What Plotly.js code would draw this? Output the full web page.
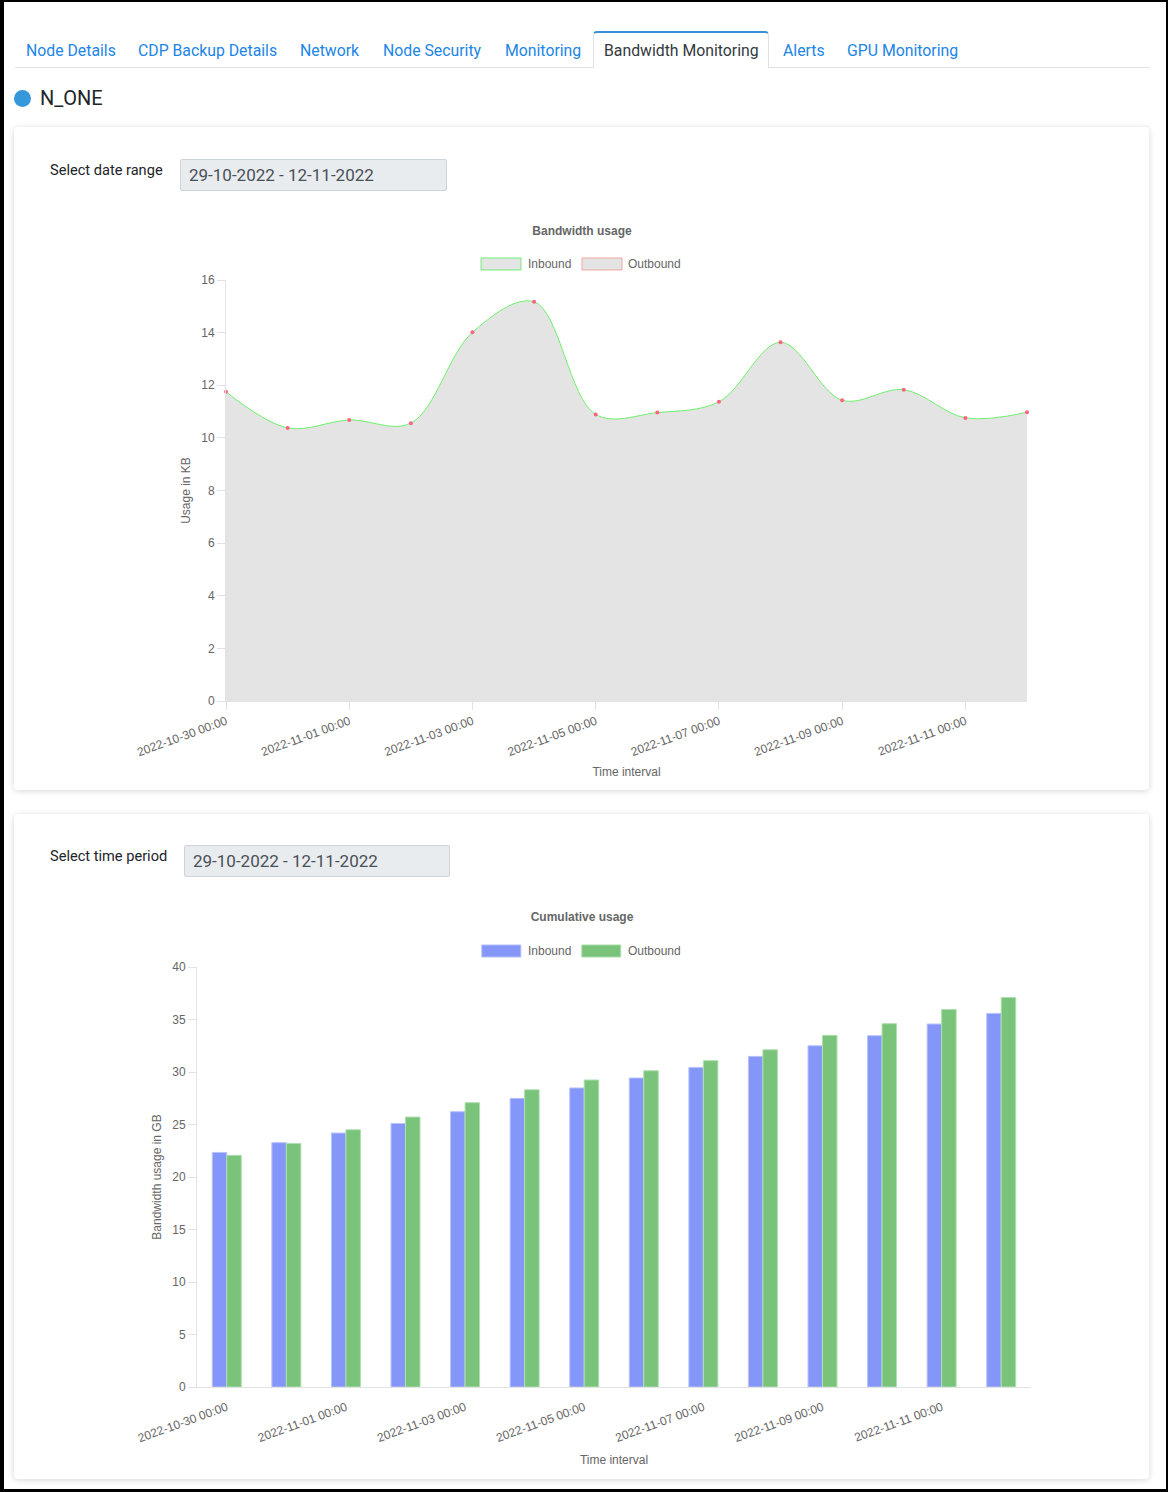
<!DOCTYPE html>
<html>
<head>
<meta charset="utf-8">
<script src="https://cdn.plot.ly/plotly-3.0.1.min.js"></script>
<style>
  html, body { margin: 0; padding: 0; background: #fff; }
  body { position: relative; width: 1168px; height: 1492px; overflow: hidden; font-family: Roboto, "Noto Sans", sans-serif; }
  #frame { position: absolute; left: 0; top: 0; width: 1168px; height: 1492px; box-sizing: border-box;
           border-style: solid; border-color: #000; border-width: 2px 2px 3px 4px; z-index: 50; pointer-events: none; }
  .tab { position: absolute; top: 41px; font-size: 15.8px; line-height: 20px; color: #2185e6; white-space: nowrap; }
  .tab.active { color: #343a40; }
  #navline { position: absolute; left: 15px; top: 67px; width: 1135px; height: 1px; background: #dee2e6; }
  #activeTab { position: absolute; left: 593px; top: 31px; width: 174px; height: 35px; background: #fff;
               border: 1px solid #dee2e6; border-top: 2px solid #3a8fd9; border-bottom: none; border-radius: 4px 4px 0 0; }
  #dot { position: absolute; left: 14px; top: 90px; width: 17px; height: 17px; border-radius: 50%; background: #3498db; }
  #nodeName { position: absolute; left: 40px; top: 86px; font-size: 20px; line-height: 24px; color: #212529; }
  .card { position: absolute; left: 14px; width: 1135px; background: #fff; border-radius: 4px;
          box-shadow: 0 1px 6px rgba(0,0,0,0.16); }
  .lbl { position: absolute; font-size: 14.6px; line-height: 18px; color: #212529; white-space: nowrap; }
  .inp { position: absolute; height: 30px; background: #e9ecef; border: 1px solid #ced4da; border-radius: 2px;
         font-size: 17px; line-height: 31px; color: #495057; padding-left: 8px; box-sizing: content-box; white-space: nowrap; }
  .chart { position: absolute; left: 50px; width: 1064px; }
</style>
</head>
<body>
<div id="frame"></div>

<div id="navline"></div>
<div id="activeTab"></div>
<div class="tab" style="left:26px">Node Details</div>
<div class="tab" style="left:138px">CDP Backup Details</div>
<div class="tab" style="left:300px">Network</div>
<div class="tab" style="left:383px">Node Security</div>
<div class="tab" style="left:505px">Monitoring</div>
<div class="tab active" style="left:604px">Bandwidth Monitoring</div>
<div class="tab" style="left:783px">Alerts</div>
<div class="tab" style="left:847px">GPU Monitoring</div>

<div id="dot"></div>
<div id="nodeName">N_ONE</div>

<div class="card" style="top:127px;height:663px"></div>
<div class="card" style="top:814px;height:665px"></div>

<div class="lbl" style="left:50px;top:161px">Select date range</div>
<div class="inp" style="left:180px;top:159px;width:257px">29-10-2022 - 12-11-2022</div>

<div class="lbl" style="left:50px;top:847px">Select time period</div>
<div class="inp" style="left:184px;top:845px;width:256px">29-10-2022 - 12-11-2022</div>

<div id="chart1" class="chart" style="top:210px;height:575px"></div>
<div id="chart2" class="chart" style="top:895px;height:580px"></div>

<script>
// ---------------- data ----------------
const dates = ['2022-10-30','2022-10-31','2022-11-01','2022-11-02','2022-11-03','2022-11-04','2022-11-05',
               '2022-11-06','2022-11-07','2022-11-08','2022-11-09','2022-11-10','2022-11-11','2022-11-12'];
const bandwidthInbound  = [11.75, 10.38, 10.68, 10.56, 14.01, 15.17, 10.89, 10.96, 11.37, 13.63, 11.43, 11.83, 10.76, 10.97];
const bandwidthOutbound = [0, 0, 0, 0, 0, 0, 0, 0, 0, 0, 0, 0, 0, 0];
const cumulativeInbound  = [22.34, 23.27, 24.19, 25.10, 26.22, 27.49, 28.48, 29.43, 30.44, 31.49, 32.50, 33.46, 34.57, 35.58];
const cumulativeOutbound = [22.06, 23.20, 24.50, 25.71, 27.08, 28.31, 29.24, 30.12, 31.08, 32.12, 33.49, 34.60, 35.96, 37.10];
const seriesNames = ['Inbound', 'Outbound'];
const labelDates = dates.filter((d, i) => i % 2 === 0);
const labelTexts = labelDates.map(d => d + ' 00:00');
const markDates  = dates.filter((d, i) => i % 2 === 1);

// ---------------- styles ----------------
const FONT = '"Liberation Sans", Arial, Helvetica, sans-serif';
const GREY = '#666666';
const AXIS = '#e3e3e3';
const DAY = 86400000;

function legendParts(items, y0, y1, ty) {
  const shapes = [], annotations = [];
  items.forEach(it => {
    shapes.push({type: 'rect', xref: 'paper', yref: 'paper', x0: it.x0, x1: it.x1, y0: y0, y1: y1,
                 fillcolor: it.fill, line: {color: it.border, width: 1}});
    annotations.push({xref: 'paper', yref: 'paper', x: it.tx, y: ty, xanchor: 'left', yanchor: 'middle',
                      text: it.name, showarrow: false, font: {family: FONT, size: 12, color: GREY}});
  });
  return {shapes, annotations};
}

// ---------------- chart 1 ----------------
const lg1 = legendParts([
  {name: seriesNames[0], x0: 0.3184, x1: 0.3683, tx: 0.3750, fill: '#e4e4e4', border: '#72ef72'},
  {name: seriesNames[1], x0: 0.4444, x1: 0.4944, tx: 0.4999, fill: '#e4e4e4', border: '#f2a5a5'}
], 1.0238, 1.0523, 1.0390);

const c1traces = [
  {x: dates, y: bandwidthOutbound, name: seriesNames[1], type: 'scatter', mode: 'lines+markers', yaxis: 'y',
   line: {color: '#f4a3a3', width: 1}, marker: {color: '#5db4ee', size: 4}, cliponaxis: true, hoverinfo: 'x+y'},
  {x: dates, y: bandwidthInbound, name: seriesNames[0], type: 'scatter', mode: 'lines+markers', yaxis: 'y2',
   line: {color: '#6cf26c', width: 1, shape: 'spline', smoothing: 1}, fill: 'tozeroy', fillcolor: '#e4e4e4',
   marker: {color: '#ff6384', size: 4}, cliponaxis: false, hoverinfo: 'x+y'}
];

const c1layout = {
  width: 1064, height: 575,
  margin: {l: 176, r: 87, t: 70, b: 84},
  paper_bgcolor: 'rgba(0,0,0,0)', plot_bgcolor: 'rgba(0,0,0,0)',
  font: {family: FONT, size: 12, color: GREY},
  showlegend: false,
  title: {text: '<b>Bandwidth usage</b>', x: 0.5, xref: 'container', xanchor: 'center',
          y: 1 - 21 / 575, yref: 'container', yanchor: 'middle', font: {family: FONT, size: 12, color: GREY}},
  xaxis: {type: 'date', range: [dates[0], dates[dates.length - 1]], tick0: dates[0], dtick: 2 * DAY,
          tickformat: '%Y-%m-%d %H:%M', tickangle: -20, ticks: 'outside', ticklen: 8, tickcolor: AXIS,
          showline: true, linecolor: AXIS, linewidth: 1, showgrid: false, zeroline: false,
          tickfont: {family: FONT, size: 12, color: GREY},
          title: {text: 'Time interval', standoff: 9, font: {family: FONT, size: 12, color: GREY}}},
  yaxis: {range: [0, 16], dtick: 2, ticks: 'outside', ticklen: 8, tickcolor: AXIS,
          showline: true, linecolor: AXIS, linewidth: 1, showgrid: false, zeroline: false,
          tickfont: {family: FONT, size: 12, color: GREY},
          title: {text: 'Usage in KB', standoff: 8, font: {family: FONT, size: 12, color: GREY}}},
  yaxis2: {range: [0, 16], overlaying: 'y', visible: false, showgrid: false, zeroline: false},
  shapes: lg1.shapes, annotations: lg1.annotations
};

Plotly.newPlot('chart1', c1traces, c1layout, {displayModeBar: false, responsive: false});

// ---------------- chart 2 ----------------
const lg2 = legendParts([
  {name: seriesNames[0], x0: 0.3415, x1: 0.3883, tx: 0.3946, fill: '#8497f8', border: '#b3bffb'},
  {name: seriesNames[1], x0: 0.4614, x1: 0.5081, tx: 0.5145, fill: '#79c37a', border: '#aadcab'}
], 1.0238, 1.0524, 1.0381);

const c2traces = [
  {x: dates, y: cumulativeInbound, name: seriesNames[0], type: 'bar',
   marker: {color: '#8497f8', line: {color: '#b9c3fb', width: 1}}, hoverinfo: 'x+y'},
  {x: dates, y: cumulativeOutbound, name: seriesNames[1], type: 'bar',
   marker: {color: '#79c37a', line: {color: '#b0dfb0', width: 1}}, hoverinfo: 'x+y'}
];

const x2range = ['2022-10-29 12:00', '2022-11-12 12:00'];
const c2layout = {
  width: 1064, height: 580,
  margin: {l: 147, r: 82.5, t: 72, b: 88},
  paper_bgcolor: 'rgba(0,0,0,0)', plot_bgcolor: 'rgba(0,0,0,0)',
  font: {family: FONT, size: 12, color: GREY},
  showlegend: false,
  barmode: 'group', bargap: 0.513, bargroupgap: 0,
  title: {text: '<b>Cumulative usage</b>', x: 0.5, xref: 'container', xanchor: 'center',
          y: 1 - 22 / 580, yref: 'container', yanchor: 'middle', font: {family: FONT, size: 12, color: GREY}},
  xaxis: {type: 'date', range: x2range, tickmode: 'array', tickvals: labelDates, ticktext: labelTexts,
          tickangle: -20, ticks: 'outside', ticklen: 8, tickcolor: 'rgba(0,0,0,0)',
          showline: true, linecolor: AXIS, linewidth: 1, showgrid: false, zeroline: false,
          tickfont: {family: FONT, size: 12, color: GREY},
          title: {text: 'Time interval', standoff: 11, font: {family: FONT, size: 12, color: GREY}}},
  xaxis2: {type: 'date', range: x2range, overlaying: 'x', side: 'bottom', anchor: 'y',
           tickmode: 'array', tickvals: markDates, showticklabels: false,
           ticks: 'outside', ticklen: 8, tickcolor: AXIS, showline: false, showgrid: false, zeroline: false},
  yaxis: {range: [0, 40], dtick: 5, ticks: 'outside', ticklen: 8, tickcolor: AXIS,
          showline: true, linecolor: AXIS, linewidth: 1, showgrid: false, zeroline: false,
          tickfont: {family: FONT, size: 12, color: GREY},
          title: {text: 'Bandwidth usage in GB', standoff: 8, font: {family: FONT, size: 12, color: GREY}}},
  shapes: lg2.shapes, annotations: lg2.annotations
};

Plotly.newPlot('chart2', c2traces, c2layout, {displayModeBar: false, responsive: false});
</script>
</body>
</html>
